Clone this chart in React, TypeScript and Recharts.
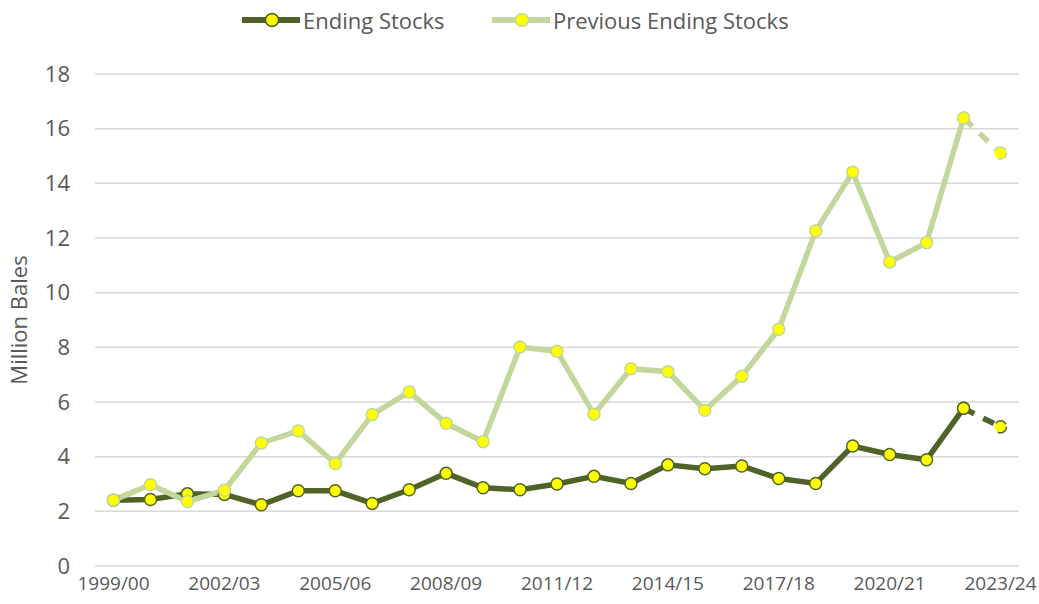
import { LineChart, Line, XAxis, YAxis, CartesianGrid } from 'recharts';

const years = [
  '1999/00', '2000/01', '2001/02', '2002/03', '2003/04', '2004/05', '2005/06', '2006/07',
  '2007/08', '2008/09', '2009/10', '2010/11', '2011/12', '2012/13', '2013/14', '2014/15',
  '2015/16', '2016/17', '2017/18', '2018/19', '2019/20', '2020/21', '2021/22', '2022/23', '2023/24',
];

const endingStocks = [
  2.41, 2.43, 2.64, 2.62, 2.24, 2.75, 2.75, 2.29, 2.79, 3.39, 2.86, 2.79, 3.0,
  3.28, 3.02, 3.7, 3.56, 3.66, 3.2, 3.02, 4.39, 4.08, 3.89, 5.77, 5.09,
];

const previousStocks = [
  2.41, 2.97, 2.36, 2.77, 4.5, 4.94, 3.75, 5.54, 6.37, 5.22, 4.55, 8.01, 7.86,
  5.55, 7.22, 7.11, 5.7, 6.94, 8.66, 12.26, 14.41, 11.12, 11.83, 16.39, 15.11,
];

const yTicks = [0, 2, 4, 6, 8, 10, 12, 14, 16, 18];

// last season is a projection -> drawn as a dashed segment
const lastSolid = years.length - 2;

const data = years.map((year, i) => ({
  year,
  ending: i <= lastSolid ? endingStocks[i] : null,
  endingProj: i >= lastSolid ? endingStocks[i] : null,
  prev: i <= lastSolid ? previousStocks[i] : null,
  prevProj: i >= lastSolid ? previousStocks[i] : null,
}));

const DARK = '#4F6228';
const LIGHT = '#C3D69B';
const YELLOW = '#FFFF00';
const TEXT = '#595959';
const FONT = '"Open Sans", sans-serif';

function LegendItem({ color, label, left }: { color: string; label: string; left: number }) {
  return (
    <div style={{ position: 'absolute', left, top: 4, display: 'flex', alignItems: 'center', height: 32 }}>
      <svg width={58} height={20}>
        <line x1={1} y1={10} x2={57} y2={10} stroke={color} strokeWidth={6} strokeLinecap="round" />
        <circle cx={30} cy={10} r={6.5} fill={YELLOW} stroke={color} strokeWidth={1.5} />
      </svg>
      <span style={{ marginLeft: 3, fontFamily: FONT, fontSize: 22, color: TEXT, whiteSpace: 'nowrap' }}>{label}</span>
    </div>
  );
}

export default function App() {
  return (
    <div style={{ position: 'absolute', left: 0, top: 0, width: 1039, height: 604, background: '#fff' }}>
      <LegendItem color={DARK} label="Ending Stocks" left={242} />
      <LegendItem color={LIGHT} label="Previous Ending Stocks" left={492} />
      <LineChart width={1039} height={604} data={data} margin={{ top: 74, right: 20, bottom: 0, left: 0 }}>
        <CartesianGrid vertical={false} stroke="#D9D9D9" strokeWidth={1.5} />
        <XAxis
          dataKey="year"
          interval={2}
          height={38}
          padding={{ left: 18.5, right: 18.5 }}
          axisLine={false}
          tickLine={false}
          tickSize={0}
          tickMargin={11}
          tick={{ fill: TEXT, fontSize: 19, fontFamily: FONT }}
        />
        <YAxis
          width={95}
          domain={[0, 18]}
          ticks={yTicks}
          axisLine={false}
          tickLine={false}
          tickSize={0}
          tickMargin={25}
          tick={{ fill: TEXT, fontSize: 22, fontFamily: FONT }}
          label={{
            value: 'Million Bales',
            angle: -90,
            position: 'insideLeft',
            offset: 19,
            style: { textAnchor: 'middle', fill: TEXT, fontSize: 22, fontFamily: FONT },
          }}
        />
        <Line
          dataKey="endingProj"
          stroke={DARK}
          strokeWidth={5.5}
          strokeDasharray="12 10"
          dot={{ r: 6, fill: YELLOW, stroke: DARK, strokeWidth: 1.5 }}
          legendType="none"
          isAnimationActive={false}
        />
        <Line
          dataKey="ending"
          stroke={DARK}
          strokeWidth={5.5}
          dot={{ r: 6, fill: YELLOW, stroke: DARK, strokeWidth: 1.5 }}
          isAnimationActive={false}
        />
        <Line
          dataKey="prevProj"
          stroke={LIGHT}
          strokeWidth={5.5}
          strokeDasharray="12 10"
          dot={{ r: 6, fill: YELLOW, stroke: LIGHT, strokeWidth: 1.5 }}
          legendType="none"
          isAnimationActive={false}
        />
        <Line
          dataKey="prev"
          stroke={LIGHT}
          strokeWidth={5.5}
          dot={{ r: 6, fill: YELLOW, stroke: LIGHT, strokeWidth: 1.5 }}
          isAnimationActive={false}
        />
      </LineChart>
    </div>
  );
}
